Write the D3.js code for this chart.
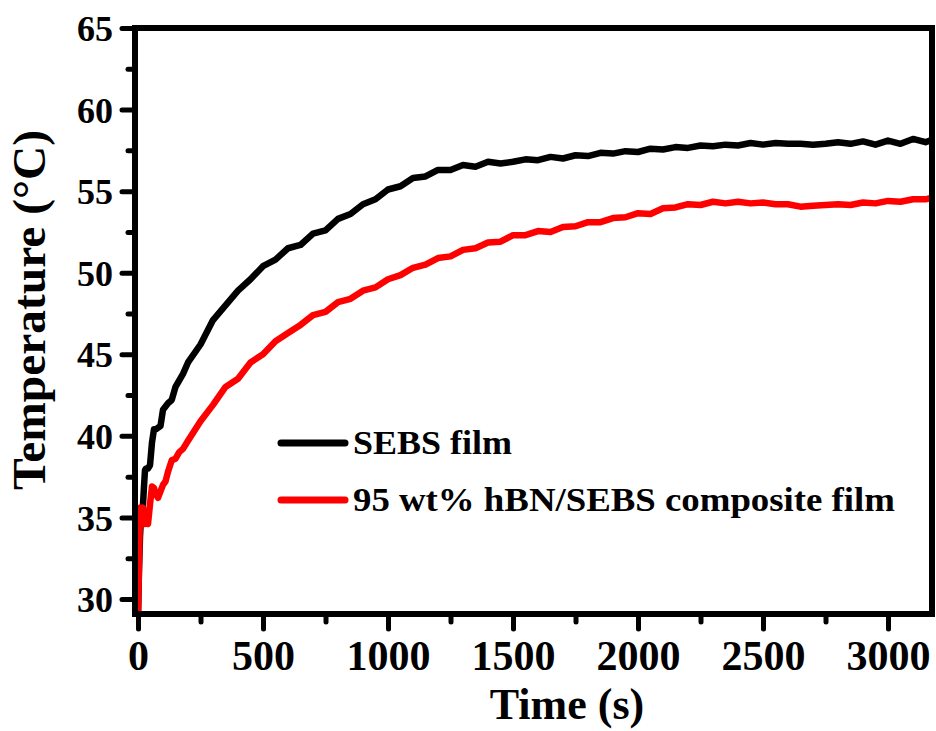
<!DOCTYPE html>
<html>
<head>
<meta charset="utf-8">
<script src="https://cdn.jsdelivr.net/npm/d3@7"></script>
<style>
  html, body { margin: 0; padding: 0; background: #fff; }
  svg { display: block; }
  text { font-family: "Liberation Serif", "Times New Roman", serif; font-weight: bold; fill: #000; }
</style>
</head>
<body>
<svg id="chart" width="936" height="731"></svg>
<script>
// Sampling times (s)
const times = [0, 4, 8, 12, 16, 20, 24, 28, 32, 40, 48, 56, 64, 72, 80, 90, 100, 110, 120, 135, 150, 165, 180, 200,
  250, 300, 350, 400, 450, 500, 550, 600, 650, 700, 750, 800, 850, 900, 950, 1000,
  1050, 1100, 1150, 1200, 1250, 1300, 1350, 1400, 1450, 1500, 1550, 1600, 1650, 1700, 1750, 1800,
  1850, 1900, 1950, 2000, 2050, 2100, 2150, 2200, 2250, 2300, 2350, 2400, 2450, 2500, 2550, 2600,
  2650, 2700, 2750, 2800, 2850, 2900, 2950, 3000, 3050, 3100, 3150, 3176];

// Surface temperature (°C), SEBS film
const sebsFilm = [29.0, 31.8, 33.8, 35.0, 35.5, 35.8, 36.9, 37.9, 38.0, 38.0, 38.2, 39.6, 40.4, 40.4, 40.5, 40.6, 41.6, 41.8, 42.0, 42.2, 43.0, 43.4, 43.8, 44.5,
  45.6, 47.1, 48.0, 48.9, 49.6, 50.4, 50.8, 51.5, 51.7, 52.4, 52.6, 53.3, 53.6, 54.2, 54.5, 55.1,
  55.3, 55.8, 55.9, 56.3, 56.3, 56.6, 56.5, 56.8, 56.7, 56.8, 56.95, 56.9, 57.1, 57.0, 57.2, 57.15,
  57.35, 57.3, 57.45, 57.4, 57.6, 57.55, 57.7, 57.65, 57.8, 57.75, 57.85, 57.8, 57.95, 57.85, 57.95, 57.9,
  57.9, 57.85, 57.9, 58.0, 57.9, 58.05, 57.85, 58.1, 57.9, 58.2, 58.0, 58.15];

// Surface temperature (°C), 95 wt% hBN/SEBS composite film
const compositeFilm = [29.0, 32.0, 35.6, 35.5, 35.3, 35.6, 35.0, 34.6, 34.8, 34.6, 35.8, 36.9, 36.8, 36.4, 36.2, 36.6, 37.0, 37.2, 37.8, 38.5, 38.6, 39.0, 39.2, 39.7,
  40.9, 41.9, 43.0, 43.5, 44.5, 45.0, 45.8, 46.3, 46.8, 47.4, 47.6, 48.2, 48.4, 48.9, 49.1, 49.6,
  49.85, 50.3, 50.5, 50.9, 51.0, 51.4, 51.5, 51.85, 51.9, 52.3, 52.3, 52.55, 52.5, 52.8, 52.85, 53.1,
  53.1, 53.35, 53.4, 53.65, 53.6, 53.95, 54.0, 54.2, 54.15, 54.35, 54.25, 54.35, 54.25, 54.3, 54.2, 54.2,
  54.05, 54.1, 54.15, 54.2, 54.15, 54.3, 54.25, 54.4, 54.35, 54.5, 54.5, 54.6];

const seriesNames = ["SEBS film", "95 wt% hBN/SEBS composite film"];
const seriesColors = ["#000000", "#ff0000"];

const xMajorTicks = [0, 500, 1000, 1500, 2000, 2500, 3000];
const xMinorTicks = [250, 750, 1250, 1750, 2250, 2750];
const yMajorTicks = [30, 35, 40, 45, 50, 55, 60, 65];
const yMinorTicks = [32.5, 37.5, 42.5, 47.5, 52.5, 57.5, 62.5];

const svg = d3.select("#chart");
const L = 135, R = 932, T = 28, B = 614;

const x = d3.scaleLinear().domain([-12, 3176]).range([L, R]);
const y = d3.scaleLinear().domain([29.08, 65]).range([B, T]);

svg.append("defs").append("clipPath").attr("id", "plotClip")
  .append("rect").attr("x", L).attr("y", T).attr("width", R - L).attr("height", B - T);

// Data curves
const series = [sebsFilm, compositeFilm];
const line = d3.line().x(d => x(d[0])).y(d => y(d[1]));
series.forEach((vals, i) => {
  svg.append("path")
    .datum(times.map((t, k) => [t, vals[k]]))
    .attr("clip-path", "url(#plotClip)")
    .attr("fill", "none")
    .attr("stroke", seriesColors[i])
    .attr("stroke-width", 6.5)
    .attr("stroke-linejoin", "round")
    .attr("stroke-linecap", "round")
    .attr("d", line);
});

// Axes: major and minor ticks, outward
function styleAxis(g) {
  g.select(".domain").remove();
  g.selectAll(".tick line").attr("stroke", "#000").attr("stroke-width", 5).attr("stroke-linecap", "round");
}

svg.append("g").attr("transform", `translate(0,${B})`)
  .call(d3.axisBottom(x).tickValues(xMinorTicks).tickSize(8).tickFormat(""))
  .call(styleAxis);
const gx = svg.append("g").attr("transform", `translate(0,${B})`)
  .call(d3.axisBottom(x).tickValues(xMajorTicks).tickSize(15).tickFormat(d3.format("d")))
  .call(styleAxis);
gx.selectAll(".tick text").attr("y", 56).attr("dy", null)
  .style("font-size", "42px").style("font-family", "'Liberation Serif', serif").style("font-weight", "bold");

svg.append("g").attr("transform", `translate(${L},0)`)
  .call(d3.axisLeft(y).tickValues(yMinorTicks).tickSize(7).tickFormat(""))
  .call(styleAxis);
const gy = svg.append("g").attr("transform", `translate(${L},0)`)
  .call(d3.axisLeft(y).tickValues(yMajorTicks).tickSize(13).tickFormat(d3.format("d")))
  .call(styleAxis);
gy.selectAll(".tick text").attr("x", -22).attr("dy", "0.35em")
  .style("font-size", "36px").style("font-family", "'Liberation Serif', serif").style("font-weight", "bold");

// Frame
svg.append("rect")
  .attr("x", L).attr("y", T).attr("width", R - L).attr("height", B - T)
  .attr("fill", "none").attr("stroke", "#000").attr("stroke-width", 6);

// Axis titles
svg.append("text").attr("x", 567).attr("y", 719).attr("text-anchor", "middle")
  .style("font-size", "44px").text("Time (s)");
svg.append("text").attr("transform", "translate(45,310) rotate(-90)").attr("text-anchor", "middle")
  .style("font-size", "46px").attr("textLength", 360).attr("lengthAdjust", "spacingAndGlyphs")
  .text("Temperature (°C)");

// Legend
const legendY = [443, 500];
const legendTextWidth = [159, 542];
seriesNames.forEach((name, i) => {
  svg.append("line").attr("x1", 281).attr("x2", 345).attr("y1", legendY[i]).attr("y2", legendY[i])
    .attr("stroke", seriesColors[i]).attr("stroke-width", 7).attr("stroke-linecap", "round");
  svg.append("text").attr("x", 353).attr("y", legendY[i] + 11)
    .style("font-size", "34px")
    .attr("textLength", legendTextWidth[i]).attr("lengthAdjust", "spacingAndGlyphs")
    .text(name);
});
</script>
</body>
</html>
